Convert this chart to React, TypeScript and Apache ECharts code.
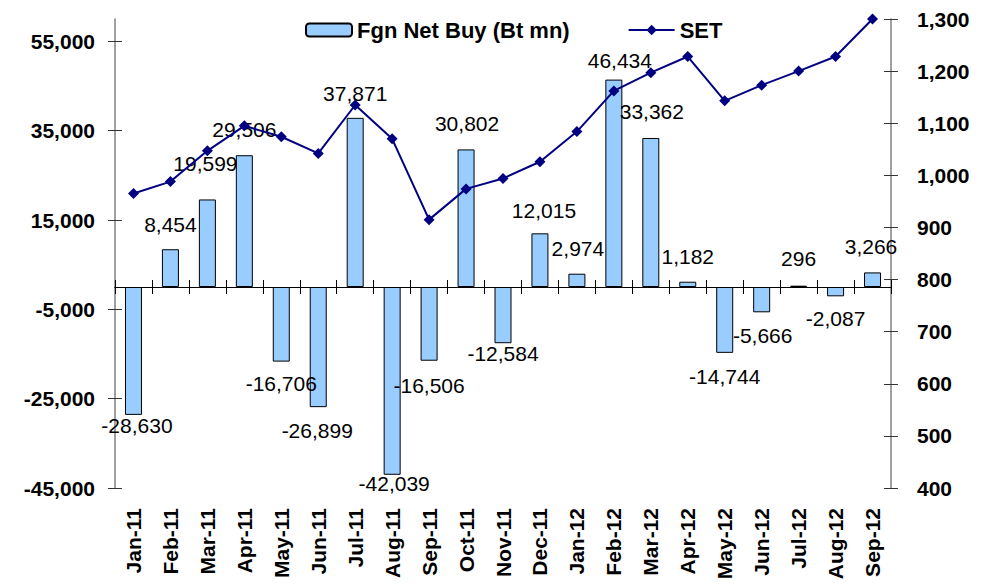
import React, { useEffect, useRef } from "react";
import * as echarts from "echarts";

const categories = [
  "Jan-11", "Feb-11", "Mar-11", "Apr-11", "May-11", "Jun-11", "Jul-11",
  "Aug-11", "Sep-11", "Oct-11", "Nov-11", "Dec-11", "Jan-12", "Feb-12",
  "Mar-12", "Apr-12", "May-12", "Jun-12", "Jul-12", "Aug-12", "Sep-12",
];
const fgnNetBuy = [
  -28630, 8454, 19599, 29506, -16706, -26899, 37871, -42039, -16506, 30802,
  -12584, 12015, 2974, 46434, 33362, 1182, -14744, -5666, 296, -2087, 3266,
];
const setIndex = [
  965, 988, 1047, 1095, 1074, 1042, 1135, 1070, 915, 974, 994, 1026, 1084,
  1162, 1197, 1228, 1143, 1173, 1200, 1228, 1300,
];
const leftTicks = [-45000, -25000, -5000, 15000, 35000, 55000];
const rightTicks = [400, 500, 600, 700, 800, 900, 1000, 1100, 1200, 1300];

// label nudges [dx, dy] in px (layout only)
const labelNudge: [number, number][] = [
  [3.5, -13], [0, -1], [-2, -12], [0, -2], [0, -2], [-1, -1], [0, 0],
  [2, -15], [0, 1], [1, -2], [0, -14], [4, 1], [1, -1], [6, 5], [1, -2],
  [0, -1], [0, 0], [1, -1], [0, -3], [0, -2], [-1.5, -1.5],
];

const FONT = "'Liberation Sans', Arial, sans-serif";
const fmt = (v: number) => v.toLocaleString("en-US");

export default function App() {
  const ref = useRef<HTMLDivElement>(null);
  useEffect(() => {
    if (!ref.current) return;
    const chart = echarts.init(ref.current, undefined, { renderer: "svg" });
    const barName = "Fgn Net Buy (Bt mn)";
    const lineName = "SET";
    const leftScale = { min: -45000, max: 60000 };
    const rightScale = { min: rightTicks[0], max: rightTicks[rightTicks.length - 1], interval: 100 };
    const axisLbl = { color: "#000", fontWeight: "bold" as const, fontSize: 21, fontFamily: FONT };
    chart.setOption({
      animation: false,
      backgroundColor: "#fff",
      textStyle: { fontFamily: FONT },
      grid: { left: 115, right: 102, top: 19, bottom: 96 },
      legend: {
        data: [barName, lineName],
        left: 300,
        top: 14,
        itemWidth: 46,
        itemHeight: 13,
        itemGap: 58,
        textStyle: { color: "#000", fontWeight: "bold", fontSize: 22, fontFamily: FONT },
      },
      xAxis: [
        {
          type: "category",
          data: categories,
          position: "bottom",
          boundaryGap: true,
          axisLine: { onZero: true, lineStyle: { color: "#000", width: 1 } },
          axisTick: { show: true, length: 7, interval: 0, lineStyle: { color: "#000" } },
          axisLabel: { show: false },
          splitLine: { show: false },
        },
        {
          type: "category",
          data: categories,
          position: "bottom",
          boundaryGap: true,
          axisLine: { onZero: true, lineStyle: { color: "#000", width: 1 } },
          axisTick: { show: true, inside: true, length: 7, interval: 0, lineStyle: { color: "#000" } },
          axisLabel: { show: false },
          splitLine: { show: false },
        },
        {
          type: "category",
          data: categories,
          position: "bottom",
          boundaryGap: true,
          axisLine: { show: false, onZero: false },
          axisTick: { show: false },
          axisLabel: { ...axisLbl, rotate: 90, interval: 0, margin: 20 },
          splitLine: { show: false },
        },
      ],
      yAxis: [
        {
          type: "value",
          position: "left",
          ...leftScale,
          axisLine: { show: true, lineStyle: { color: "#808080", width: 1.5 } },
          axisTick: { show: true, length: 7, customValues: leftTicks, lineStyle: { color: "#333" } },
          axisLabel: { ...axisLbl, margin: 20, customValues: leftTicks, formatter: (v: number) => fmt(v) },
          splitLine: { show: false },
        },
        {
          type: "value",
          position: "right",
          ...rightScale,
          axisLine: { show: true, lineStyle: { color: "#808080", width: 1.5 } },
          axisTick: { show: true, length: 7, lineStyle: { color: "#333" } },
          axisLabel: { ...axisLbl, margin: 26, formatter: (v: number) => fmt(v) },
          splitLine: { show: false },
        },
        {
          type: "value",
          position: "left",
          ...leftScale,
          axisLine: { show: false },
          axisTick: { show: true, inside: true, length: 7, customValues: leftTicks, lineStyle: { color: "#333" } },
          axisLabel: { show: false },
          splitLine: { show: false },
        },
        {
          type: "value",
          position: "right",
          ...rightScale,
          axisLine: { show: false },
          axisTick: { show: true, inside: true, length: 7, lineStyle: { color: "#333" } },
          axisLabel: { show: false },
          splitLine: { show: false },
        },
      ],
      series: [
        {
          name: barName,
          type: "bar",
          xAxisIndex: 0,
          yAxisIndex: 0,
          barWidth: 17,
          z: 2,
          itemStyle: { color: "#99CCFF", borderColor: "#000", borderWidth: 1 },
          data: fgnNetBuy.map((v, i) => ({
            value: v,
            label: {
              show: true,
              position: v >= 0 ? "top" : "bottom",
              distance: 13.5,
              offset: labelNudge[i],
            },
          })),
          label: {
            show: true,
            color: "#000",
            fontSize: 21,
            lineHeight: 21,
            fontFamily: FONT,
            formatter: (p: any) => fmt(p.value),
          },
        },
        {
          name: lineName,
          type: "line",
          xAxisIndex: 0,
          yAxisIndex: 1,
          z: 3,
          data: setIndex,
          symbol: "diamond",
          symbolSize: 11,
          lineStyle: { color: "#000080", width: 2 },
          itemStyle: { color: "#000080" },
        },
      ],
    });
    return () => chart.dispose();
  }, []);
  return (
    <div
      ref={ref}
      style={{ position: "absolute", left: 0, top: 0, width: 993, height: 584, background: "#fff" }}
    />
  );
}
